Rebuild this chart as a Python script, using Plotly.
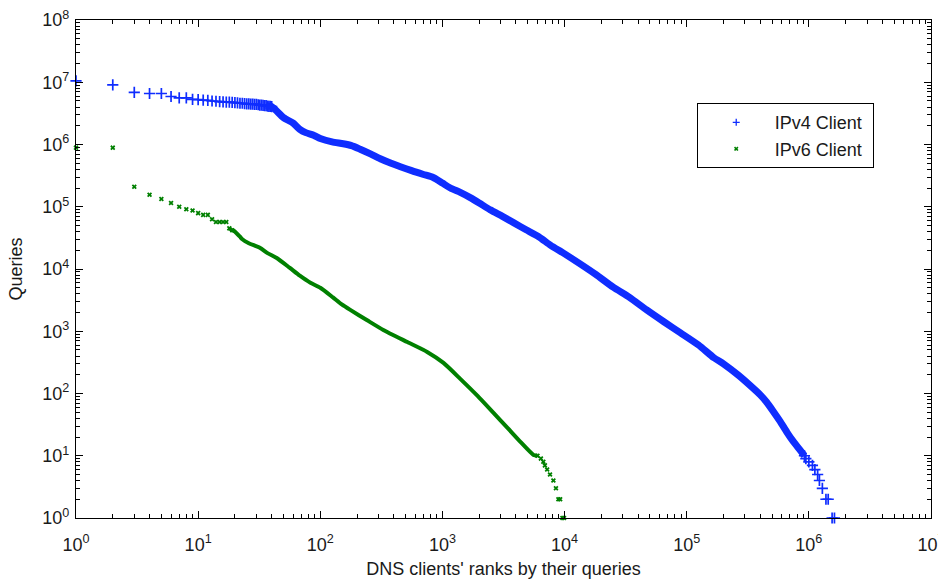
import plotly.graph_objects as go

# Ranked query counts per client (rank -> number of queries)
ipv4_rank = [1, 2, 3, 4, 5, 6, 7, 8, 9, 10, 11, 12, 13, 14, 15, 16, 17, 18, 19, 20,
             21, 22, 23, 24, 25, 26, 27, 28, 29, 30, 31, 32, 33, 34, 35, 36, 37, 38, 39, 40,
             43, 50, 60, 68, 76, 89, 100, 125, 154, 180, 212, 260, 310, 380, 453, 560, 700,
             840, 1000, 1160, 1400, 1690, 2000, 2470, 3100, 3850, 4800, 6140, 7700, 9800,
             13500, 18000, 25000, 34000, 47000, 65000, 89000, 125000, 167000, 200000,
             262000, 330000, 400000, 450000, 510000, 580000, 660000, 740000, 810000,
             870000, 920000,
             945000, 1000000, 1070000, 1120000, 1180000, 1220000, 1290000, 1380000, 1440000,
             1550000, 1620000]
ipv4_queries = [1.05e7, 9.1e6, 6.9e6, 6.6e6, 6.6e6, 5.9e6, 5.6e6, 5.6e6, 5.3e6, 5.25e6,
                5.15e6, 5.1e6, 5.0e6, 4.95e6, 4.9e6, 4.85e6, 4.8e6, 4.8e6, 4.75e6, 4.7e6,
                4.65e6, 4.6e6, 4.6e6, 4.55e6, 4.5e6, 4.5e6, 4.45e6, 4.45e6, 4.4e6, 4.4e6,
                4.35e6, 4.3e6, 4.3e6, 4.25e6, 4.2e6, 4.2e6, 4.15e6, 4.1e6, 4.1e6, 4.05e6,
                3.6e6, 2.7e6, 2.2e6, 1.75e6, 1.55e6, 1.4e6, 1.25e6, 1.1e6, 1.03e6, 9.6e5,
                8.4e5, 7.0e5, 5.9e5, 5.0e5, 4.4e5, 3.8e5, 3.3e5, 2.95e5, 2.4e5, 2.0e5, 1.7e5,
                1.4e5, 1.15e5, 8.9e4, 7.0e4, 5.5e4, 4.3e4, 3.3e4, 2.4e4, 1.8e4, 1.2e4, 8.2e3,
                5.1e3, 3.5e3, 2.2e3, 1.42e3, 940, 600, 375, 300, 200, 135, 95,
                73, 52, 36, 24, 17.3, 13.8, 11.5, 10,
                9, 8, 7, 6, 5, 4, 3, 2, 2, 1, 1]

ipv6_rank = [1, 2, 3, 4, 5, 6, 7, 8, 9, 10, 11, 12, 13, 14, 15, 16, 17, 18, 19,
             20, 22, 23, 26, 32, 37, 44, 56, 68, 83, 100, 127, 150, 176, 242, 328, 516,
             750, 1020, 1400, 1940, 2620, 3410, 4350, 5570, 6000,
             6400, 6700, 6900, 7200, 7600, 8100, 8500, 8900, 9200, 9600, 9900]
ipv6_queries = [8.9e5, 8.9e5, 2.1e5, 1.56e5, 1.33e5, 1.15e5, 1.0e5, 9.1e4, 8.7e4, 7.9e4,
                7.4e4, 7.4e4, 6.3e4, 5.7e4, 5.7e4, 5.7e4, 5.7e4, 4.5e4, 4.2e4,
                4.0e4, 3.3e4, 3.0e4, 2.6e4, 2.2e4, 1.8e4, 1.5e4, 1.05e4, 7.8e3, 6.0e3,
                5.0e3, 3.5e3, 2.7e3, 2.2e3, 1.5e3, 1.05e3, 670, 465, 310, 172, 91.5, 48.8,
                28, 16.7, 10.3, 10, 9, 8, 7, 6, 5, 4, 3, 2, 2, 1, 1]

x_decades = [0, 1, 2, 3, 4, 5, 6, 7]
y_decades = [0, 1, 2, 3, 4, 5, 6, 7, 8]

BLUE = "rgb(15,45,255)"
GREEN = "rgb(0,128,0)"
FONT = "Liberation Sans, Arial, sans-serif"
TEXT = "#1a1a1a"


def split(rank, q, head_end, tail_start):
    """Separate sparse head markers, the dense middle band and the integer tail."""
    head = [(r, v) for r, v in zip(rank, q) if r <= head_end]
    body = [(r, v) for r, v in zip(rank, q) if head_end * 0.9 <= r and v >= tail_start]
    tail = [(r, v) for r, v in zip(rank, q) if v <= tail_start]
    return head, body, tail


fig = go.Figure()

for rank, q, color, sym, msize, mline, band, head_end, name in [
    (ipv4_rank, ipv4_queries, BLUE, "cross-thin", 8, 1.7, 7, 40, "IPv4 Client"),
    (ipv6_rank, ipv6_queries, GREEN, "x", 4.5, 0, 4, 19, "IPv6 Client"),
]:
    head, body, tail = split(rank, q, head_end, 10)
    mk = dict(symbol=sym, size=msize, color=color,
              line=dict(width=mline, color=color))
    for part in (head, tail):
        fig.add_trace(go.Scatter(
            x=[p[0] for p in part], y=[p[1] for p in part], mode="markers",
            marker=mk, showlegend=False, cliponaxis=False, hoverinfo="x+y"))
    fig.add_trace(go.Scatter(
        x=[p[0] for p in body], y=[p[1] for p in body], mode="lines",
        line=dict(color=color, width=band, shape="spline", smoothing=0.6),
        showlegend=False, cliponaxis=False))
    # legend entry with a small marker
    fig.add_trace(go.Scatter(
        x=[None], y=[None], mode="markers", name=name + "\u00a0",
        marker=dict(symbol=sym, size=5 if sym == "cross-thin" else 4, color=color,
                    line=dict(width=1.3 if sym == "cross-thin" else 0, color=color))))

minor_x = [k * 10 ** d for d in range(7) for k in range(2, 10)]
minor_y = [k * 10 ** d for d in range(8) for k in range(2, 10)]

axis_common = dict(
    type="log", showgrid=False, zeroline=False, showline=True, linecolor="black",
    linewidth=1.2, mirror="ticks", ticks="inside", ticklen=7, tickwidth=1.2,
    tickcolor="black", tickfont=dict(family=FONT, size=18, color=TEXT),
    ticklabeloverflow="allow",
)

fig.update_xaxes(
    **axis_common, range=[0, 7],
    tickvals=[10 ** d for d in x_decades],
    ticktext=[f"10<sup>{d}</sup>" for d in x_decades],
    ticklabelstandoff=10,
    minor=dict(tickvals=minor_x, ticks="inside", ticklen=4, tickwidth=1.2,
               tickcolor="black", showgrid=False),
    title=dict(text="DNS clients' ranks by their queries",
               font=dict(family=FONT, size=18, color=TEXT), standoff=8),
)
fig.update_yaxes(
    **axis_common, range=[0, 8],
    tickvals=[10 ** d for d in y_decades],
    ticktext=[f"10<sup>{d}</sup>" for d in y_decades],
    ticklabelstandoff=2,
    minor=dict(tickvals=minor_y, ticks="inside", ticklen=4, tickwidth=1.2,
               tickcolor="black", showgrid=False),
    title=dict(text="Queries", font=dict(family=FONT, size=18, color=TEXT),
               standoff=14),
)

fig.update_layout(
    width=938, height=581,
    margin=dict(l=76, r=7, t=20, b=63, autoexpand=False),
    paper_bgcolor="white", plot_bgcolor="white",
    legend=dict(x=0.726, y=0.833, xanchor="left", yanchor="top",
                bordercolor="black", borderwidth=1, bgcolor="white",
                font=dict(family=FONT, size=18, color=TEXT),
                itemwidth=67, tracegroupgap=0),
)

fig.write_html("out.html")
